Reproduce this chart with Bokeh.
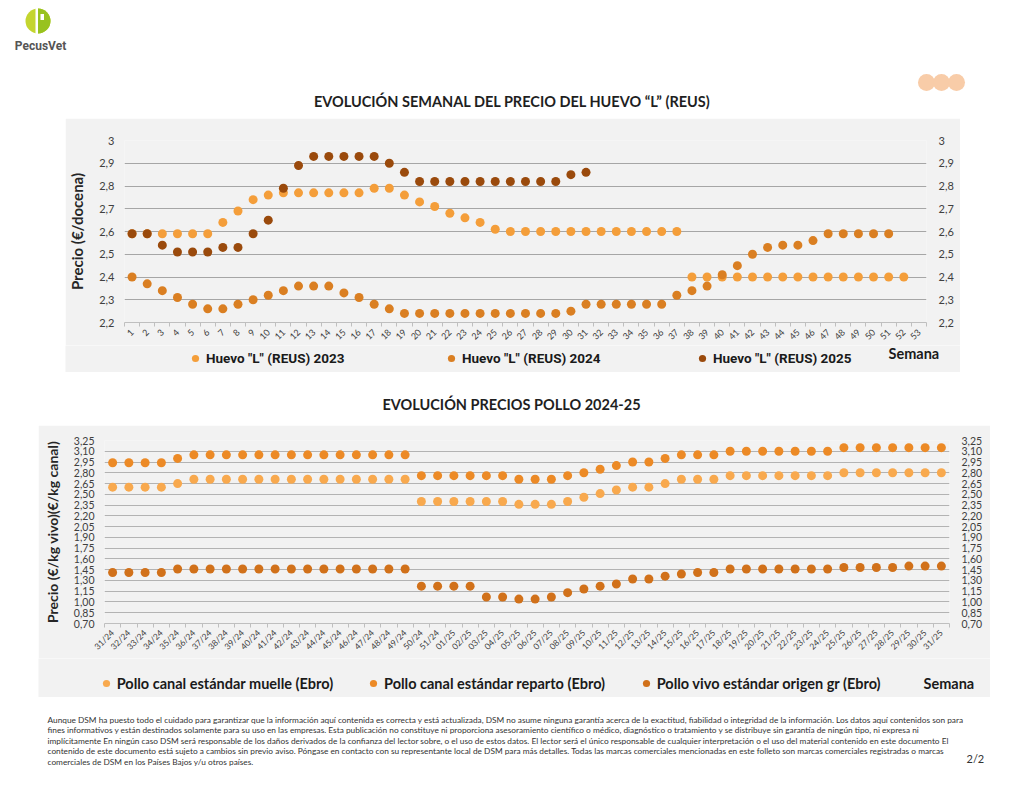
import math
from bokeh.plotting import figure
from bokeh.models import (Range1d, FixedTicker, LinearAxis, Legend, LegendItem, Label,
                          ColumnDataSource)
from bokeh.layouts import column
from bokeh.embed import file_html
from bokeh.resources import INLINE
from bokeh.core.properties import value

# ---------------- data: egg prices (REUS) ----------------
weeks = list(range(1, 54))
huevo_2023 = [2.59, 2.59, 2.59, 2.59, 2.59, 2.59, 2.64, 2.69, 2.74, 2.76,
              2.77, 2.77, 2.77, 2.77, 2.77, 2.77, 2.79, 2.79, 2.76, 2.73,
              2.71, 2.68, 2.66, 2.64, 2.61, 2.60, 2.60, 2.60, 2.60, 2.60,
              2.60, 2.60, 2.60, 2.60, 2.60, 2.60, 2.60, 2.40, 2.40, 2.40,
              2.40, 2.40, 2.40, 2.40, 2.40, 2.40, 2.40, 2.40, 2.40, 2.40,
              2.40, 2.40]
huevo_2024 = [2.40, 2.37, 2.34, 2.31, 2.28, 2.26, 2.26, 2.28, 2.30, 2.32,
              2.34, 2.36, 2.36, 2.36, 2.33, 2.31, 2.28, 2.26, 2.24, 2.24,
              2.24, 2.24, 2.24, 2.24, 2.24, 2.24, 2.24, 2.24, 2.24, 2.25,
              2.28, 2.28, 2.28, 2.28, 2.28, 2.28, 2.32, 2.34, 2.36, 2.41,
              2.45, 2.50, 2.53, 2.54, 2.54, 2.56, 2.59, 2.59, 2.59, 2.59,
              2.59]
huevo_2025 = [2.59, 2.59, 2.54, 2.51, 2.51, 2.51, 2.53, 2.53, 2.59, 2.65,
              2.79, 2.89, 2.93, 2.93, 2.93, 2.93, 2.93, 2.90, 2.86, 2.82,
              2.82, 2.82, 2.82, 2.82, 2.82, 2.82, 2.82, 2.82, 2.82, 2.85,
              2.86]
huevo_names = ['Huevo "L" (REUS) 2023', 'Huevo "L" (REUS) 2024', 'Huevo "L" (REUS) 2025']
huevo_ticks = [2.2, 2.3, 2.4, 2.5, 2.6, 2.7, 2.8, 2.9, 3.0]
huevo_tick_labels = ["2,2", "2,3", "2,4", "2,5", "2,6", "2,7", "2,8", "2,9", "3"]

# ---------------- data: chicken prices 2024-25 ----------------
pollo_weeks = ["31/24", "32/24", "33/24", "34/24", "35/24", "36/24", "37/24", "38/24",
               "39/24", "40/24", "41/24", "42/24", "43/24", "44/24", "45/24", "46/24",
               "47/24", "48/24", "49/24", "50/24", "51/24", "01/25", "02/25", "03/25",
               "04/25", "05/25", "06/25", "07/25", "08/25", "09/25", "10/25", "11/25",
               "12/25", "13/25", "14/25", "15/25", "16/25", "17/25", "18/25", "19/25",
               "20/25", "21/25", "22/25", "23/25", "24/25", "25/25", "26/25", "27/25",
               "28/25", "29/25", "30/25", "31/25"]
pollo_muelle = [2.60, 2.60, 2.60, 2.60, 2.65, 2.71, 2.71, 2.71, 2.71, 2.71,
                2.71, 2.71, 2.71, 2.71, 2.71, 2.71, 2.71, 2.71, 2.71, 2.40,
                2.40, 2.40, 2.40, 2.40, 2.40, 2.36, 2.36, 2.36, 2.40, 2.46,
                2.51, 2.56, 2.60, 2.60, 2.65, 2.71, 2.71, 2.71, 2.76, 2.76,
                2.76, 2.76, 2.76, 2.76, 2.76, 2.80, 2.80, 2.80, 2.80, 2.80,
                2.80, 2.80]
pollo_reparto = [2.94, 2.94, 2.94, 2.94, 3.00, 3.05, 3.05, 3.05, 3.05, 3.05,
                 3.05, 3.05, 3.05, 3.05, 3.05, 3.05, 3.05, 3.05, 3.05, 2.76,
                 2.76, 2.76, 2.76, 2.76, 2.76, 2.71, 2.71, 2.71, 2.76, 2.80,
                 2.85, 2.90, 2.95, 2.95, 3.00, 3.05, 3.05, 3.05, 3.10, 3.10,
                 3.10, 3.10, 3.10, 3.10, 3.10, 3.15, 3.15, 3.15, 3.15, 3.15,
                 3.15, 3.15]
pollo_vivo = [1.41, 1.41, 1.41, 1.41, 1.46, 1.46, 1.46, 1.46, 1.46, 1.46,
              1.46, 1.46, 1.46, 1.46, 1.46, 1.46, 1.46, 1.46, 1.46, 1.22,
              1.22, 1.22, 1.22, 1.07, 1.07, 1.04, 1.04, 1.07, 1.13, 1.18,
              1.22, 1.25, 1.32, 1.32, 1.36, 1.39, 1.41, 1.41, 1.46, 1.46,
              1.46, 1.46, 1.46, 1.46, 1.46, 1.48, 1.48, 1.48, 1.48, 1.50,
              1.50, 1.50]
pollo_names = ["Pollo canal estándar muelle (Ebro)", "Pollo canal estándar reparto (Ebro)",
               "Pollo vivo estándar origen gr (Ebro)"]
pollo_ticks = [0.70, 0.85, 1.00, 1.15, 1.30, 1.45, 1.60, 1.75, 1.90, 2.05, 2.20, 2.35,
               2.50, 2.65, 2.80, 2.95, 3.10, 3.25]
pollo_tick_labels = ["0,70", "0,85", "1,00", "1,15", "1,30", "1,45", "1,60", "1,75", "1,90",
                     "2,05", "2,20", "2,35", "2,50", "2,65", "2,80", "2,95", "3,10", "3,25"]

disclaimer = [
    "Aunque DSM ha puesto todo el cuidado para garantizar que la información aquí contenida es correcta y está actualizada, DSM no asume ninguna garantía acerca de la exactitud, fiabilidad o integridad de la información. Los datos aquí contenidos son para",
    "fines informativos y están destinados solamente para su uso en las empresas. Esta publicación no constituye ni proporciona asesoramiento científico o médico, diagnóstico o tratamiento y se distribuye sin garantía de ningún tipo, ni expresa ni",
    "implícitamente En ningún caso DSM será responsable de los daños derivados de la confianza del lector sobre, o el uso de estos datos. El lector será el único responsable de cualquier interpretación o el uso del material contenido en este documento El",
    "contenido de este documento está sujeto a cambios sin previo aviso. Póngase en contacto con su representante local de DSM para más detalles. Todas las marcas comerciales mencionadas en este folleto son marcas comerciales registradas o marcas",
    "comerciales de DSM en los Países Bajos y/u otros países.",
]

GRAY_BG = "#F2F2F2"
FONT = "Lato"
PAGE_W = 1016


def no_align(p):
    try:
        p.frame_align = False
    except Exception:
        pass
    return p


def canvas(h, y_top, y_bottom):
    c = figure(width=PAGE_W, height=h, x_range=Range1d(0, PAGE_W), y_range=Range1d(y_bottom, y_top),
               output_backend="svg", toolbar_location=None, min_border=0,
               x_axis_location=None, y_axis_location=None, outline_line_color=None,
               background_fill_color="white", border_fill_color="white")
    c.grid.visible = False
    return no_align(c)


def style_value_axis(ax, ticks, labels, size, standoff):
    ax.ticker = FixedTicker(ticks=ticks)
    ax.major_label_overrides = dict(zip(ticks, labels))
    ax.axis_line_color = None
    ax.major_tick_line_color = None
    ax.major_tick_out = 0
    ax.major_tick_in = 0
    ax.minor_tick_line_color = None
    ax.major_label_text_font = FONT
    ax.major_label_text_font_size = size
    ax.major_label_text_color = "#404040"
    ax.major_label_standoff = standoff


def style_cat_axis(ax, positions, size):
    minor = [v - 0.5 for v in positions] + [positions[-1] + 0.5]
    ax.ticker = FixedTicker(ticks=positions, minor_ticks=minor)
    ax.axis_line_color = "#BFBFBF"
    ax.major_tick_line_color = None
    ax.major_tick_out = 0
    ax.major_tick_in = 0
    ax.minor_tick_line_color = "#BFBFBF"
    ax.minor_tick_out = 4
    ax.minor_tick_in = 0
    ax.major_label_orientation = math.pi / 4
    ax.major_label_text_font = FONT
    ax.major_label_text_font_size = size
    ax.major_label_text_color = "#404040"
    ax.major_label_standoff = 4


def legend_strip(width, height, margin_left, names, colors, xs, ly, font, size, sx, sy):
    s = figure(width=width, height=height, x_range=Range1d(0, width), y_range=Range1d(0, height),
               output_backend="svg", toolbar_location=None, min_border=0,
               x_axis_location=None, y_axis_location=None, outline_line_color=None,
               background_fill_color=GRAY_BG, border_fill_color=GRAY_BG,
               margin=(0, 0, 0, margin_left))
    s.grid.visible = False
    no_align(s)
    for name, col, lx in zip(names, colors, xs):
        # legend-only renderer: a single off-canvas sample so the legend can draw its swatch
        r = s.scatter(x=[-100], y=[-100], size=9, fill_color=col, line_color=None)
        lg = Legend(items=[LegendItem(label=name, renderers=[r])], location=(lx, ly),
                    orientation="horizontal", glyph_width=18, glyph_height=18, label_standoff=2,
                    padding=0, margin=0, spacing=0, border_line_color=None,
                    background_fill_alpha=0, label_text_font=font, label_text_font_size=size,
                    label_text_font_style="bold", label_text_color="#1a1a1a")
        s.add_layout(lg)
    s.add_layout(Label(x=sx, y=sy, text="Semana", text_font=FONT, text_font_size="14.5px",
                       text_font_style="bold", text_color="#1a1a1a", text_baseline="middle"))
    return s


# ---------------- header ----------------
head = canvas(118, 0, 118)
head.circle(x=[37.5], y=[20.5], radius=12.5, fill_color="#C4D52F", line_color=None)
head.wedge(x=[37.5], y=[20.5], radius=12.5, start_angle=-math.pi / 2, end_angle=math.pi / 2,
           fill_color="#98C21F", line_color=None)
head.quad(left=[35.0], right=[37.5], top=[7.5], bottom=[33.5], fill_color="white", line_color=None)
head.quad(left=[40.0], right=[43.5], top=[13.5], bottom=[19.5], fill_color="white", line_color=None)
head.text(x=[40], y=[45.5], text=["PecusVet"], text_font=value("Roboto"), text_font_size="12px",
          text_font_style="bold", text_color="#555555", text_align="center", text_baseline="middle")
head.circle(x=[926, 941, 956], y=[82, 82, 82], radius=8.5, fill_color="#F8CCA8", line_color=None)
head.text(x=[512], y=[101], text=["EVOLUCIÓN SEMANAL DEL PRECIO DEL HUEVO “L” (REUS)"],
          text_font=value(FONT), text_font_size="14.5px", text_font_style="bold",
          text_color="#1f1f1f", text_align="center", text_baseline="middle")

# ---------------- egg chart ----------------
p1 = figure(width=895, height=227, x_range=Range1d(0.5, 53.5), y_range=Range1d(2.2, 3.0),
            output_backend="svg", toolbar_location=None,
            min_border_left=58, min_border_right=34, min_border_top=22, min_border_bottom=23,
            background_fill_color=GRAY_BG, border_fill_color=GRAY_BG, outline_line_color=None,
            margin=(0, 0, 0, 65))
no_align(p1)
p1.xgrid.visible = False
p1.ygrid.ticker = FixedTicker(ticks=huevo_ticks)
p1.ygrid.grid_line_color = "#A6A6A6"
style_value_axis(p1.yaxis[0], huevo_ticks, huevo_tick_labels, "11px", 10)
p1.yaxis[0].axis_label = "Precio (€/docena)"
p1.yaxis[0].axis_label_text_font = FONT
p1.yaxis[0].axis_label_text_font_size = "15px"
p1.yaxis[0].axis_label_text_font_style = "bold"
p1.yaxis[0].axis_label_text_color = "#262626"
p1.yaxis[0].axis_label_standoff = 10
ax1r = LinearAxis()
style_value_axis(ax1r, huevo_ticks, huevo_tick_labels, "11px", 12)
p1.add_layout(ax1r, "right")
style_cat_axis(p1.xaxis[0], weeks, "9px")

huevo_colors = ["#F49E3A", "#DA7F22", "#9A4A0C"]
huevo_series = [huevo_2023, huevo_2024, huevo_2025]
for vals, col in zip(huevo_series, huevo_colors):
    src = ColumnDataSource(dict(x=weeks[:len(vals)], y=vals))
    p1.scatter("x", "y", source=src, size=9, fill_color=col, line_color=None)

s1 = legend_strip(895, 27, 65, huevo_names, huevo_colors, [121, 377, 628], 5,
                  "Roboto", "13.5px", 823, 19)

# ---------------- middle title ----------------
mid = canvas(53, 372, 425)
mid.text(x=[511], y=[404], text=["EVOLUCIÓN PRECIOS POLLO 2024-25"],
         text_font=value(FONT), text_font_size="14.5px", text_font_style="bold",
         text_color="#1f1f1f", text_align="center", text_baseline="middle")

# ---------------- chicken chart ----------------
pos = list(range(len(pollo_weeks)))
p2 = figure(width=952, height=233, x_range=Range1d(-0.5, len(pollo_weeks) - 0.5),
            y_range=Range1d(0.70, 3.25),
            output_backend="svg", toolbar_location=None,
            min_border_left=66, min_border_right=41, min_border_top=15, min_border_bottom=33,
            background_fill_color=GRAY_BG, border_fill_color=GRAY_BG, outline_line_color=None,
            margin=(0, 0, 0, 38))
no_align(p2)
p2.xgrid.visible = False
p2.ygrid.ticker = FixedTicker(ticks=pollo_ticks)
p2.ygrid.grid_line_color = "#B3B3B3"
style_value_axis(p2.yaxis[0], pollo_ticks, pollo_tick_labels, "10.5px", 10)
p2.yaxis[0].axis_label = "Precio (€/kg vivo)(€/kg canal)"
p2.yaxis[0].axis_label_text_font = FONT
p2.yaxis[0].axis_label_text_font_size = "14px"
p2.yaxis[0].axis_label_text_font_style = "bold"
p2.yaxis[0].axis_label_text_color = "#262626"
p2.yaxis[0].axis_label_standoff = 10
ax2r = LinearAxis()
style_value_axis(ax2r, pollo_ticks, pollo_tick_labels, "10.5px", 12)
p2.add_layout(ax2r, "right")
style_cat_axis(p2.xaxis[0], pos, "8.5px")
p2.xaxis[0].major_label_overrides = dict(zip(pos, pollo_weeks))

pollo_colors = ["#F8A94E", "#EC8A26", "#D1711A"]
pollo_series = [pollo_muelle, pollo_reparto, pollo_vivo]
for vals, col in zip(pollo_series, pollo_colors):
    src = ColumnDataSource(dict(x=pos[:len(vals)], y=vals))
    p2.scatter("x", "y", source=src, size=9, fill_color=col, line_color=None)

s2 = legend_strip(952, 39, 38, pollo_names, pollo_colors, [58.7, 326, 598.7], 5,
                  FONT, "14.5px", 885, 14)

# ---------------- footer ----------------
foot = canvas(88, 697, 785)
foot.text(x=[47] * len(disclaimer), y=[719, 729.5, 740, 750.5, 761], text=disclaimer,
          text_font=value(FONT), text_font_size="8.3px", text_color="#333333",
          text_align="left", text_baseline="middle")
foot.text(x=[966], y=[758], text=["2/2"], text_font=value(FONT), text_font_size="11px",
          text_color="#333333", text_align="left", text_baseline="middle")

layout = column(head, p1, s1, mid, p2, s2, foot, spacing=0)
open("out.html", "w").write(file_html(layout, INLINE))
